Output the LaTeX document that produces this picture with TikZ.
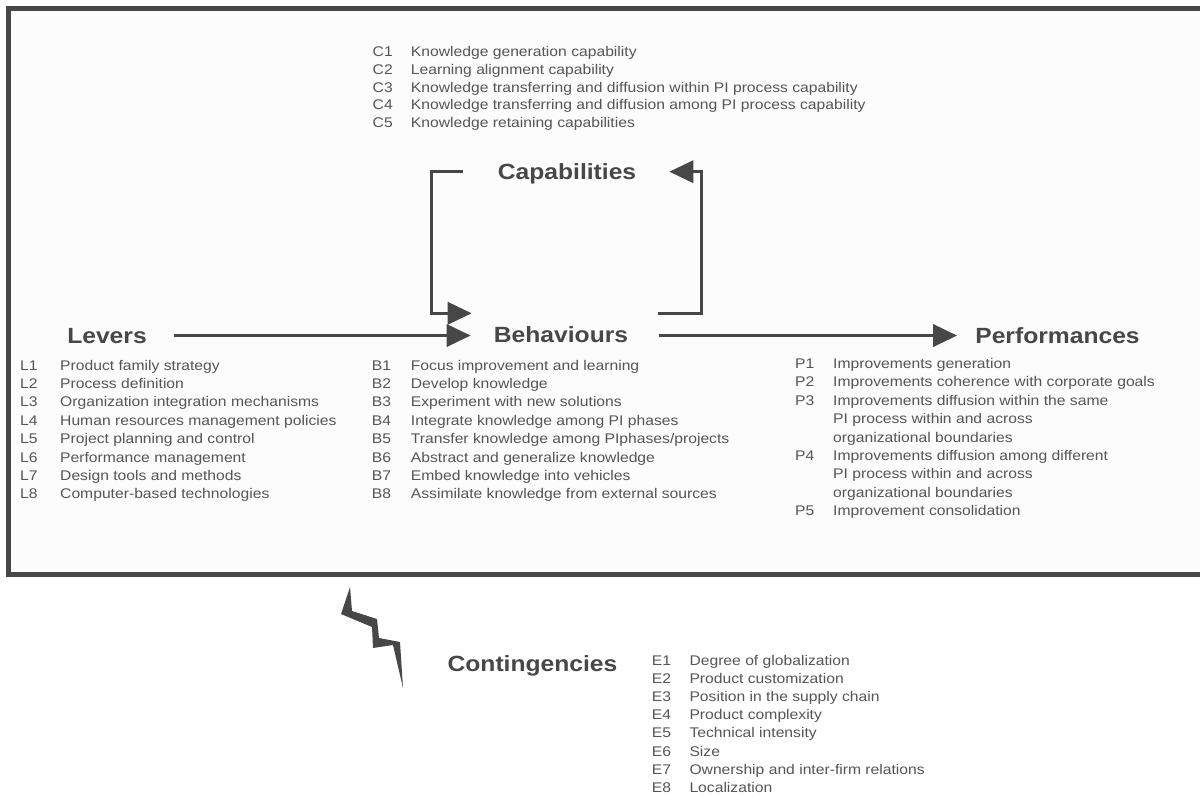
\documentclass[tikz,border=0pt]{standalone}
\usepackage{fontspec}
\setmainfont{Liberation Sans}
\usetikzlibrary{arrows.meta}
\definecolor{frm}{HTML}{474747}
\definecolor{hd}{HTML}{474747}
\definecolor{tx}{HTML}{555555}
\definecolor{bg}{HTML}{FCFCFC}
\newcommand\sx[1]{\scalebox{1.12}[1]{#1}}
\begin{document}
\begin{tikzpicture}[x=1pt,y=-1pt,
 head/.style={anchor=base, inner sep=0, text=hd, font=\fontsize{22}{26}\selectfont\bfseries},
 lab/.style={anchor=base west, inner sep=0, text=tx, font=\fontsize{14}{17}\selectfont},
 conn/.style={draw=frm, line width=3.5, -{Triangle[length=24pt,width=22pt]}},
]
\useasboundingbox (0,0) rectangle (1200,796);
\fill[white] (0,0) rectangle (1200,796);
\begin{scope}
\clip (0,0) rectangle (1200,796);
\draw[frm, line width=5, fill=bg] (8.5,8.75) rectangle (1230,574);
\end{scope}

% headings
\node[head] (lev) at (107,343) {\sx{Levers}};
\node[head] (beh) at (561,342.5) {\sx{Behaviours}};
\node[head] (per) at (1057.5,343) {\sx{Performances}};
\node[head] (cap) at (567,179) {\sx{Capabilities}};
\node[head] (con) at (532.5,671.5) {\sx{Contingencies}};

% main arrows
\draw[conn] ([xshift=27pt]lev.east) -- ([xshift=-23pt]beh.west |- lev.east);
\draw[conn] ([xshift=31pt]beh.east |- lev.east) -- ([xshift=-18pt]per.west |- lev.east);

% feedback brackets
\coordinate (lbs) at (462.7,171.7);
\coordinate (lbc) at (431.7,313.3);
\coordinate (lbe) at (471.7,313.3);
\draw[conn] (lbs) -| (lbc) -- (lbe);
\coordinate (rbs) at (658.3,313.3);
\coordinate (rbc) at (701.7,171.7);
\coordinate (rbe) at (669.3,171.7);
\draw[conn] (rbs) -| (rbc) -- (rbe);

% lightning bolt
\fill[frm] (350,587) -- (352,611) -- (377,619) -- (379,638) -- (400,642) -- (403,688)
  -- (393,645) -- (373,648) -- (372,627) -- (341,614) -- cycle;

% C list
\foreach \t [count=\i] in {Knowledge generation capability, Learning alignment capability,
  Knowledge transferring and diffusion within PI process capability,
  Knowledge transferring and diffusion among PI process capability,
  Knowledge retaining capabilities}{
  \node[lab] (c\i) at (372.5,{56.5+17.8*(\i-1)}) {\sx{C\i}};
  \node[lab] (ct\i) at (410.7,{56.5+17.8*(\i-1)}) {\sx{\t}};
}

% L list
\foreach \t [count=\i] in {Product family strategy, Process definition,
  Organization integration mechanisms, Human resources management policies,
  Project planning and control, Performance management,
  Design tools and methods, Computer-based technologies}{
  \node[lab] (l\i) at (20,{370+18.4*(\i-1)}) {\sx{L\i}};
  \node[lab] (lt\i) at (60,{370+18.4*(\i-1)}) {\sx{\t}};
}

% B list
\foreach \t [count=\i] in {Focus improvement and learning, Develop knowledge,
  Experiment with new solutions, Integrate knowledge among PI phases,
  {Transfer knowledge among PIphases/projects}, Abstract and generalize knowledge,
  Embed knowledge into vehicles, Assimilate knowledge from external sources}{
  \node[lab] (b\i) at (371.7,{370+18.4*(\i-1)}) {\sx{B\i}};
  \node[lab] (bt\i) at (410.7,{370+18.4*(\i-1)}) {\sx{\t}};
}

% P list
\node[lab] (p1) at (795,368.5) {\sx{P1}};
\node[lab] (pt1) at (833,368.5) {\sx{Improvements generation}};
\node[lab] (p2) at (795,386.9) {\sx{P2}};
\node[lab] (pt2) at (833,386.9) {\sx{Improvements coherence with corporate goals}};
\node[lab] (p3) at (795,405.3) {\sx{P3}};
\node[lab] (pt3) at (833,405.3) {\sx{Improvements diffusion within the same}};
\node[lab] (pt3b) at (833,423.7) {\sx{PI process within and across}};
\node[lab] (pt3c) at (833,442.1) {\sx{organizational boundaries}};
\node[lab] (p4) at (795,460.5) {\sx{P4}};
\node[lab] (pt4) at (833,460.5) {\sx{Improvements diffusion among different}};
\node[lab] (pt4b) at (833,478.9) {\sx{PI process within and across}};
\node[lab] (pt4c) at (833,497.3) {\sx{organizational boundaries}};
\node[lab] (p5) at (795,515.7) {\sx{P5}};
\node[lab] (pt5) at (833,515.7) {\sx{Improvement consolidation}};

% E list
\foreach \t [count=\i] in {Degree of globalization, Product customization,
  Position in the supply chain, Product complexity, Technical intensity, Size,
  Ownership and inter-firm relations, Localization}{
  \node[lab] (e\i) at (651.7,{665+18.2*(\i-1)}) {\sx{E\i}};
  \node[lab] (et\i) at (689.3,{665+18.2*(\i-1)}) {\sx{\t}};
}
\end{tikzpicture}
\end{document}
